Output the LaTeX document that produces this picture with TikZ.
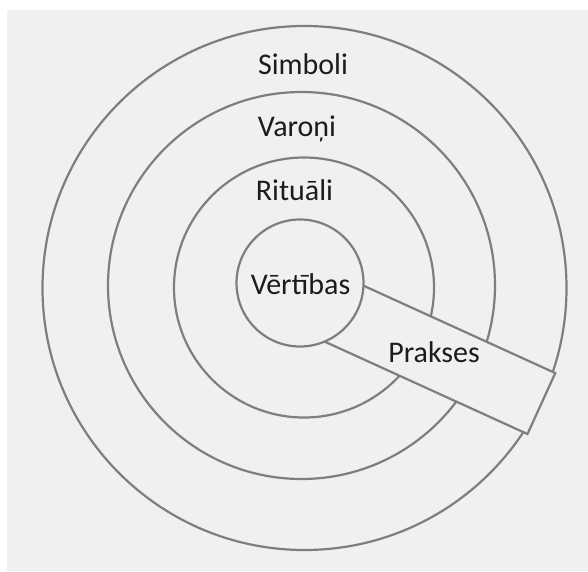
\documentclass[tikz,border=0pt]{standalone}
\usepackage{fontspec}
\setmainfont{Carlito}
\definecolor{panel}{HTML}{F0F0F0}
\definecolor{ringline}{HTML}{7E7E7E}
\definecolor{labeltext}{HTML}{1C1C1C}

\begin{document}
\begin{tikzpicture}[x=1pt,y=-1pt,
	ring/.style={circle, draw=ringline, line width=2.2pt, inner sep=0pt},
	tag/.style={text=labeltext, font=\fontsize{30}{35}\selectfont, inner sep=0pt, anchor=base}]
	\useasboundingbox (0,0) rectangle (588,571);
	\fill[white] (0,0) rectangle (588,571);
	\fill[panel] (7,10) rectangle (588,571);
	% the rings
	\node (simboli) at (304.5, 288)	[ring, minimum size=524pt]	{};
	\node (varoni) at (301.5, 285.5)	[ring, minimum size=387pt]	{};
	\node (ritual) at (304, 287.5)	[ring, minimum size=260pt]	{};
	% the band cuts through them
	\node (prakse) at (421.9, 349.1)	[rectangle, draw=ringline, fill=panel, line width=2.2pt, inner sep=0pt,
		minimum width=262.6pt, minimum height=67pt, rotate=-24.5]	{};
	\node (vertiba) at (300, 283)	[ring, fill=panel, minimum size=127pt]	{};
	% labels
	\node (t1) at (303, 74)	[tag]	{Simboli};
	\node (t2) at (297, 136)	[tag]	{Varoņi};
	\node (t3) at (294.5, 200)	[tag]	{Rituāli};
	\node (t4) at (300.5, 294)	[tag]	{Vērtības};
	\node (t5) at (434, 362)	[tag]	{Prakses};
\end{tikzpicture}
\end{document}
